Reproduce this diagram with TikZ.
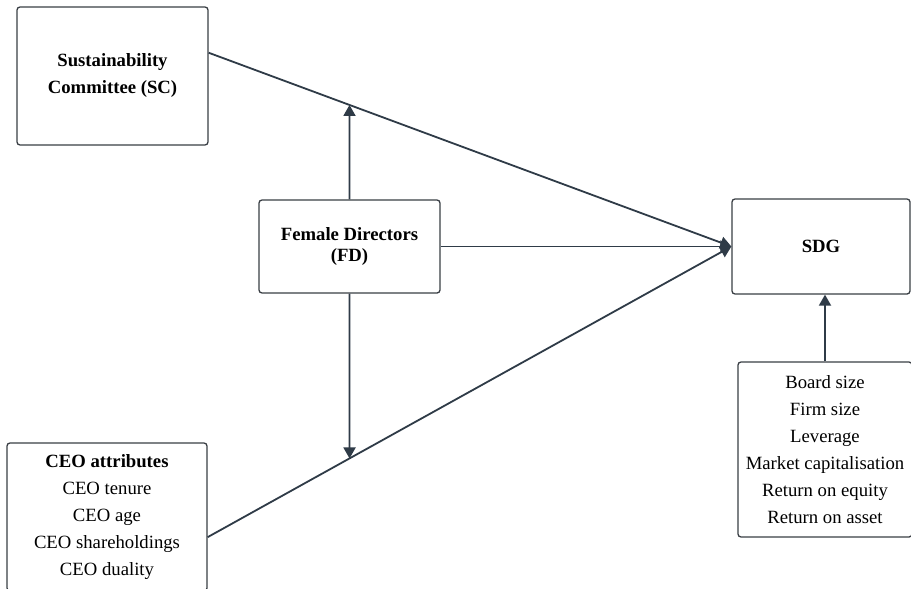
\documentclass[tikz,border=0pt]{standalone}
\usepackage{fontspec}
\setmainfont{Liberation Serif}
\usetikzlibrary{arrows.meta,calc}
\definecolor{linec}{HTML}{2F3B47}
\definecolor{boxc}{HTML}{3A3F45}
\tikzset{
  box/.style={draw=boxc, line width=1.3pt, rounded corners=3pt, fill=white, align=center, inner sep=0pt,
    font=\fontsize{18.7}{27}\selectfont},
  conn/.style={draw=linec, line width=1.8pt},
  arr/.style={conn, -{Triangle[length=11pt,width=12pt]}}
}
\begin{document}
\begin{tikzpicture}[x=1pt,y=-1pt]
\useasboundingbox[clip] (0,0) rectangle (911,589);
\fill[white] (0,0) rectangle (911,589);
\node[box, minimum width=191pt, minimum height=138pt] (SC) at (112.5,76) {\textbf{Sustainability}\\\textbf{Committee (SC)}};
\node[box, minimum width=181pt, minimum height=93pt, font=\fontsize{18.7}{21}\selectfont] (FD) at (349.5,246.5) {\textbf{Female Directors}\\\textbf{(FD)}};
\node[box, minimum width=178pt, minimum height=95pt] (SDG) at (821,246.5) {\textbf{SDG}};
\node[box, minimum width=174pt, minimum height=175pt] (CTRL) at (825,449.5) {Board size\\Firm size\\Leverage\\Market capitalisation\\Return on equity\\Return on asset};
\node[box, minimum width=200pt, minimum height=148pt] (CEO) at (107,517) {\textbf{CEO attributes}\\CEO tenure\\CEO age\\CEO shareholdings\\CEO duality};
\coordinate (s1) at ($(SC.north east)!0.333!(SC.south east)$);
\coordinate (c1) at ($(CEO.north east)!0.635!(CEO.south east)$);
\draw[arr] (s1) -- (SDG.west);
\draw[arr] (c1) -- (SDG.west);
\draw[arr] (FD.east) -- (SDG.west);
\draw[arr] (FD.north) -- (intersection of s1--SDG.west and FD.north--FD.center);
\draw[arr] (FD.south) -- (intersection of c1--SDG.west and FD.south--FD.center);
\draw[arr] (CTRL.north) -- (CTRL.north |- SDG.south);
\end{tikzpicture}
\end{document}
